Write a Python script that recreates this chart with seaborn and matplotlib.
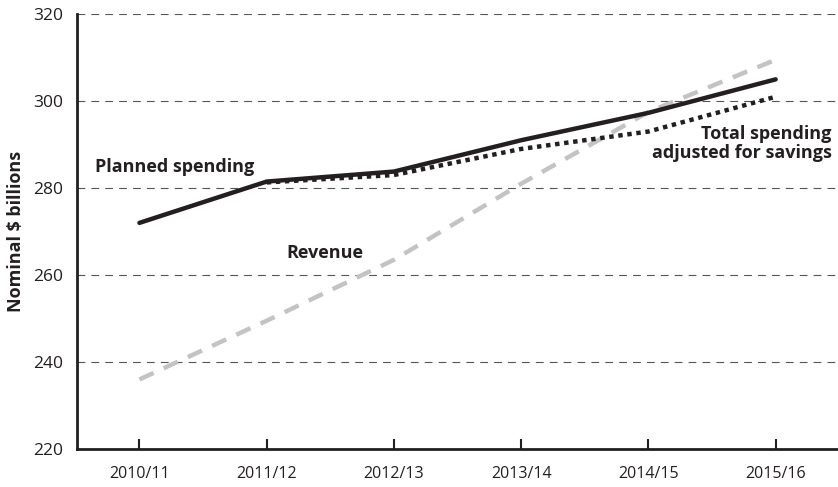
import pandas as pd
import matplotlib.pyplot as plt
import numpy as np
import seaborn as sns

years = ['2010/11', '2011/12', '2012/13', '2013/14', '2014/15', '2015/16']
planned = [272, 281.5, 283.8, 291, 297.3, 305]
adjusted = [np.nan, 281.3, 283, 289, 293, 301]
revenue = [236, 249.5, 263.5, 281, 297.5, 309.5]

sns.set_theme(style='white')
plt.rcParams['font.family'] = ['Open Sans', 'DejaVu Sans']

df = pd.DataFrame({'x': range(len(years)), 'planned': planned,
                   'adjusted': adjusted, 'revenue': revenue})

fig = plt.figure(figsize=(8.38, 4.87), dpi=100)
ax = fig.add_axes([0.092, 0.078, 0.908, 0.893])

sns.lineplot(data=df, x='x', y='revenue', ax=ax, color='#c3c3c5', lw=3.2,
             linestyle=(0, (3.5, 2.5)), zorder=3)
sns.lineplot(data=df, x='x', y='planned', ax=ax, color='#231f20', lw=3.2,
             zorder=4, solid_capstyle='round')
sns.lineplot(data=df.dropna(), x='x', y='adjusted', ax=ax, color='#231f20',
             lw=3.2, linestyle=(0, (1, 1.05)), zorder=5, dash_capstyle='butt')

ax.set_ylim(220, 320)
ax.set_xlim(-0.49, 5.49)
ax.set_yticks([220, 240, 260, 280, 300, 320])
ax.set_xticks(range(len(years)))
ax.set_xticklabels(years)
for v in [240, 260, 280, 300, 320]:
    ax.axhline(v, color='#555555', lw=0.8, linestyle=(0, (7, 5.5)), zorder=1)

for s in ['top', 'right']:
    ax.spines[s].set_visible(False)
for s in ['left', 'bottom']:
    ax.spines[s].set_color('#231f20')
    ax.spines[s].set_linewidth(2)

ax.tick_params(axis='x', direction='in', length=7, width=1.5, color='#231f20',
               labelsize=11.5, labelcolor='#231f20', pad=12, bottom=True)
ax.tick_params(axis='y', length=0, labelsize=12.5, labelcolor='#231f20', pad=10)
ax.set_xlabel('')
ax.set_ylabel('Nominal $ billions', fontsize=13, fontweight='bold',
              color='#231f20', labelpad=6)

ax.text(-0.35, 284.8, 'Planned spending', fontsize=13, fontweight='bold',
        color='#231f20', va='center', ha='left')
ax.text(1.46, 265, 'Revenue', fontsize=13, fontweight='bold',
        color='#231f20', va='center', ha='center')
ax.text(5.44, 290.2, 'Total spending\nadjusted for savings', fontsize=13,
        fontweight='bold', color='#231f20', va='center', ha='right',
        multialignment='right', linespacing=1.05)

fig.savefig('out.png', dpi=100)
